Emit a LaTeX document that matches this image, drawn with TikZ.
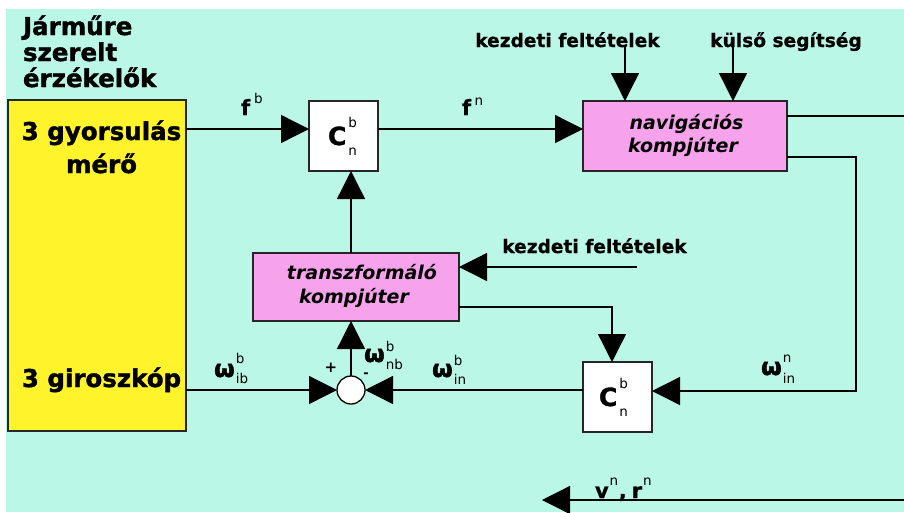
\documentclass[tikz,border=0pt]{standalone}
\usepackage{fontspec}
\setmainfont{DejaVu Sans}
\newfontfamily\myheavy{DejaVu Sans}[BoldFeatures={FakeBold=1.5}]
\newfontfamily\mymedium{DejaVu Sans}[BoldFeatures={FakeBold=0.8}]
\usetikzlibrary{arrows.meta}
\definecolor{mint}{HTML}{BAF7E6}
\definecolor{sensoryellow}{HTML}{FFF42C}
\definecolor{boxpink}{HTML}{F6A3EC}
\newcommand\myheadf{\myheavy\fontsize{24.5}{26}\selectfont\bfseries}
\newcommand\mylabf{\mymedium\fontsize{18.6}{20}\selectfont\bfseries}
\newcommand\myboxf{\fontsize{19}{21}\selectfont\bfseries\itshape}
\newcommand\mysymf{\mymedium\fontsize{21}{21}\selectfont\bfseries}
\newcommand\myomf{\myheavy\fontsize{24}{24}\selectfont\bfseries}
\newcommand\myCf{\myheavy\fontsize{25}{25}\selectfont\bfseries}
\newcommand\mysupf{\fontsize{13.5}{13.5}\selectfont}
\newcommand\mySym[5]{{\myomf #1}\kern1pt\rlap{\raisebox{#4}{\mysupf #2}}\raisebox{-#5}{\mysupf #3}}
\newcommand\myCnb{{\myCf C}\kern2pt\rlap{\raisebox{18pt}{\mysupf b}}\raisebox{-10pt}{\mysupf n}}
\tikzset{
  every node/.style={inner sep=0pt, outer sep=0pt},
  conn/.style={line width=1.3pt, draw=black},
  arr/.style={conn, -{Triangle[length=28pt,width=28pt]}},
  blockbox/.style={draw=black!85, line width=1.3pt, rectangle},
  txt/.style={anchor=base},
  txtw/.style={anchor=base west},
}
\begin{document}
\begin{tikzpicture}[x=1pt,y=-1pt]
\useasboundingbox (0,0) rectangle (904,512);
\fill[white] (0,0) rectangle (904,512);
\fill[mint] (6,9) rectangle (904,512);

% heading
\node[txtw] (h1) at (23,35) {\myheadf Járműre};
\node[txtw] (h2) at (23,61) {\myheadf szerelt};
\node[txtw] (h3) at (23,87) {\myheadf érzékelők};

% blocks
\node[blockbox, fill=sensoryellow, minimum width=178pt, minimum height=331pt] (sensor) at (97,265.5) {};
\node[txt] (acc1) at (101.5,140) {\myheadf 3 gyorsulás};
\node[txt] (acc2) at (101.5,173) {\myheadf mérő};
\node[txt] (gyro) at (101.5,387) {\myheadf 3 giroszkóp};

\node[blockbox, fill=white, minimum width=69pt, minimum height=70pt] (C1) at (343.5,136) {};
\node[txtw] (C1l) at (328,145) {\myCnb};

\node[blockbox, fill=boxpink, minimum width=204pt, minimum height=70pt] (nav) at (685,136) {};
\node[txt] (nav1) at (686.5,129) {\myboxf navigációs};
\node[txt] (nav2) at (683,152) {\myboxf kompjúter};

\node[blockbox, fill=boxpink, minimum width=206pt, minimum height=68pt] (trans) at (356,287) {};
\node[txt] (tr1) at (362,279) {\myboxf transzformáló};
\node[txt] (tr2) at (354,303) {\myboxf kompjúter};

\node[blockbox, fill=white, minimum width=69pt, minimum height=70pt] (C2) at (617.5,397) {};
\node[txtw] (C2l) at (599,406) {\myCnb};

\node[circle, draw=black, line width=1.3pt, fill=white, minimum size=28pt] (sum) at (351,390) {};

% input labels
\node[txt] (kz1) at (567.5,47) {\mylabf kezdeti feltételek};
\node[txt] (ks) at (786,47) {\mylabf külső segítség};
\node[txt] (kz2) at (594.5,253) {\mylabf kezdeti feltételek};

% helper coordinates
\coordinate (rowA) at (0,129);
\coordinate (a1) at (625,45);
\coordinate (a2) at (733,45);
\coordinate (o1) at (904,116);
\coordinate (o2) at (856,157);
\coordinate (o3) at (856,391);
\coordinate (xv) at (351,0);
\coordinate (k2) at (637,267);
\coordinate (t2) at (612,307);
\coordinate (v1) at (904,500);
\coordinate (v2) at (542,500);

% connectors
\draw[arr] (sensor.east |- rowA) -- (C1.west |- rowA);
\draw[arr] (C1.east |- rowA) -- (nav.west |- rowA);
\draw[arr] (a1) -- (nav.north -| a1);
\draw[arr] (a2) -- (nav.north -| a2);
\draw[conn] (nav.east |- o1) -- (o1);
\draw[arr] (nav.east |- o2) -- (o2) -- (o3) -- (C2.east |- o3);
\draw[arr] (trans.north -| xv) -- (C1.south -| xv);
\draw[arr] (k2) -- (trans.east |- k2);
\draw[arr] (trans.east |- t2) -- (t2) -- (C2.north -| t2);
\draw[arr] (sensor.east |- sum.west) -- (sum.west);
\draw[arr] (C2.west |- sum.east) -- (sum.east);
\draw[arr] (sum.north) -- (trans.south -| sum.north);
\draw[arr] (v1) -- (v2);

% signal labels
\node[txtw] (fb) at (241,115) {{\mysymf f}\kern4pt\raisebox{12pt}{\mysupf b}};
\node[txtw] (fn) at (462,115) {{\mysymf f}\kern3.5pt\raisebox{10pt}{\mysupf n}};
\node[txtw] (wib) at (214,377) {\mySym{ω}{b}{ib}{14pt}{6pt}};
\node[txtw] (wnb) at (364,362) {\mySym{ω}{b}{nb}{11pt}{7pt}};
\node[txtw] (win) at (432,377) {\mySym{ω}{b}{in}{12pt}{7pt}};
\node[txtw] (winn) at (761,375) {\mySym{ω}{n}{in}{13pt}{8pt}};
\node (plus) at (331,368) {\fontsize{15}{15}\selectfont\bfseries +};
\node (minus) at (366,375) {\fontsize{13}{13}\selectfont\bfseries -};
\node[txtw] (vr) at (595,498) {{\mysymf v}\kern1pt\raisebox{13pt}{\mysupf n}\kern0.5pt{\mysymf ,}\kern5pt{\mysymf r}\kern1pt\raisebox{13pt}{\mysupf n}};
\end{tikzpicture}
\end{document}
